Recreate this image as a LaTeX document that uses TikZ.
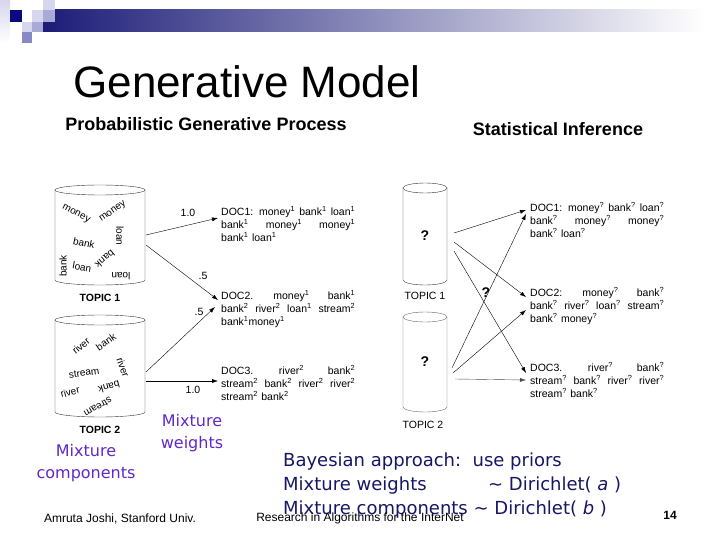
\documentclass[tikz,border=0pt]{standalone}
\usepackage{fontspec}
\setmainfont{Liberation Sans}
\newfontfamily\comicfont{DejaVu Sans}
\usepackage{xcolor}
\usetikzlibrary{arrows.meta, positioning, calc}

\definecolor{barnavy}{RGB}{28,28,120}
\definecolor{sqnavy}{RGB}{10,10,128}
\definecolor{lavlight}{RGB}{214,214,238}
\definecolor{lavmid}{RGB}{170,170,214}
\definecolor{lavdark}{RGB}{136,136,196}
\definecolor{mixpurple}{RGB}{96,40,200}
\definecolor{bayesblue}{RGB}{22,22,102}

\begin{document}
\begin{tikzpicture}[
  x=1pt, y=-1pt,
  word/.style={inner sep=0pt, font=\fontsize{10}{10}\selectfont},
  doc/.style={anchor=north west, text width=134pt, inner sep=0pt, font=\fontsize{10.5}{13}\selectfont},
  topic/.style={inner sep=0pt, font=\bfseries\fontsize{10.5}{12}\selectfont},
  weight/.style={inner sep=0pt, font=\fontsize{10.5}{12}\selectfont},
  query/.style={inner sep=0pt, font=\bfseries\fontsize{14}{14}\selectfont},
  mix/.style={align=center, text=mixpurple, font=\comicfont\fontsize{16}{22}\selectfont},
  cyl/.style={draw=black!80, thin},
  arrow/.style={-{Latex[length=6pt, width=4pt]}, thin},
]
\useasboundingbox (0,0) rectangle (720,540);

% top decoration
\shade[left color=barnavy, right color=white] (43,10) rectangle (705,32);
\shade[top color=lavlight, bottom color=white] (0,0) rectangle (10,43);
\fill[sqnavy] (10,10) rectangle (22,22);
\fill[lavlight] (32,10) rectangle (43,22);
\fill[lavlight] (43,0) rectangle (55,10);
\fill[lavmid] (43,10) rectangle (55,22);
\fill[lavlight] (22,22) rectangle (32,32);
\fill[lavmid] (32,22) rectangle (43,32);
\fill[lavdark] (22,32) rectangle (32,43);

% titles
\node[inner sep=0pt, font=\fontsize{44}{44}\selectfont] (title) at (247,82) {Generative Model};
\node[inner sep=0pt, font=\bfseries\fontsize{18}{18}\selectfont] (gen) at (206,124) {Probabilistic Generative Process};
\node[inner sep=0pt, font=\bfseries\fontsize{18}{18}\selectfont] (inf) at (558,129) {Statistical Inference};

% generative side: topic 1
\draw[cyl] (100,190) ellipse [x radius=45, y radius=5];
\draw[cyl] (55,190) -- (55,280) arc[start angle=180, end angle=0, x radius=45, y radius=5] -- (145,190);
\node[topic] (top1) at (100,298) {TOPIC 1};
\node[word, rotate=-28] (w1) at (76,214) {money};
\node[word, rotate=35] (w2) at (113,212) {money};
\node[word, rotate=-90] (w3) at (120,236) {loan};
\node[word, rotate=-12] (w4) at (84,243) {bank};
\node[word, rotate=90] (w5) at (63,266) {bank};
\node[word, rotate=-10] (w6) at (82,267) {loan};
\node[word, rotate=-140] (w7) at (105,259) {bank};
\node[word, rotate=180] (w8) at (121,276) {loan};

% generative side: topic 2
\draw[cyl] (100,320) ellipse [x radius=45, y radius=5];
\draw[cyl] (55,320) -- (55,412) arc[start angle=180, end angle=0, x radius=45, y radius=5] -- (145,320);
\node[topic] (top2) at (100,430) {TOPIC 2};
\node[word, rotate=40] (v1) at (81,346) {river};
\node[word, rotate=35] (v2) at (106,342) {bank};
\node[word, rotate=-70] (v3) at (123,367) {river};
\node[word, rotate=8] (v4) at (84,373) {stream};
\node[word, rotate=15] (v5) at (70,392) {river};
\node[word, rotate=195] (v6) at (109,387) {bank};
\node[word, rotate=-150] (v7) at (98,407) {stream};

% generated documents
\node[doc] (doc1) at (221,206) {DOC1: \hfill money\textsuperscript{1} \hfill bank\textsuperscript{1} \hfill loan\textsuperscript{1}\\
  bank\textsuperscript{1} \hfill money\textsuperscript{1} \hfill money\textsuperscript{1}\\
  bank\textsuperscript{1} loan\textsuperscript{1}};
\node[doc] (doc2) at (221,290) {DOC2. \hfill money\textsuperscript{1} \hfill bank\textsuperscript{1}\\
  bank\textsuperscript{2} \hfill river\textsuperscript{2} \hfill loan\textsuperscript{1} \hfill stream\textsuperscript{2}\\
  bank\textsuperscript{1}money\textsuperscript{1}};
\node[doc] (doc3) at (221,365) {DOC3. \hfill river\textsuperscript{2} \hfill bank\textsuperscript{2}\\
  stream\textsuperscript{2} \hfill bank\textsuperscript{2} \hfill river\textsuperscript{2} \hfill river\textsuperscript{2}\\
  stream\textsuperscript{2} bank\textsuperscript{2}};

\coordinate (g1a) at (146,235);
\coordinate (g1b) at (146,245);
\coordinate (g2a) at (146,372);
\coordinate (g2b) at (146,381);
\draw[arrow] (g1a) -- ($(doc1.north west)+(-3,12)$);
\draw[arrow] (g1b) -- ($(doc2.north west)+(-3,10)$);
\draw[arrow] (g2a) -- ($(doc2.north west)+(-6,17)$);
\draw[arrow] (g2b) -- ($(doc3.north west)+(-3,16)$);
\node[weight] (p1) at (188,213) {1.0};
\node[weight] (p2) at (203,276) {.5};
\node[weight] (p3) at (199,312) {.5};
\node[weight] (p4) at (193,390) {1.0};

% inference side
\draw[cyl] (425,188) ellipse [x radius=22, y radius=5];
\draw[cyl] (403,188) -- (403,280) arc[start angle=180, end angle=0, x radius=22, y radius=5] -- (447,188);
\node[query] (q1) at (425,236) {?};
\node[weight] (top1r) at (425,296) {TOPIC 1};
\draw[cyl, draw=black!60] (425,317) ellipse [x radius=22, y radius=5];
\draw[cyl, draw=black!60] (403,317) -- (403,407) arc[start angle=180, end angle=0, x radius=22, y radius=5] -- (447,317);
\node[query] (q2) at (425,362) {?};
\node[weight] (top2r) at (423,425) {TOPIC 2};
\node[query] (qm) at (486,293) {?};

\node[doc] (rdoc1) at (530,202) {DOC1: \hfill money\textsuperscript{?} \hfill bank\textsuperscript{?} \hfill loan\textsuperscript{?}\\
  bank\textsuperscript{?} \hfill money\textsuperscript{?} \hfill money\textsuperscript{?}\\
  bank\textsuperscript{?} loan\textsuperscript{?}};
\node[doc] (rdoc2) at (530,287) {DOC2: \hfill money\textsuperscript{?} \hfill bank\textsuperscript{?}\\
  bank\textsuperscript{?} \hfill river\textsuperscript{?} \hfill loan\textsuperscript{?} \hfill stream\textsuperscript{?}\\
  bank\textsuperscript{?} money\textsuperscript{?}};
\node[doc] (rdoc3) at (530,362) {DOC3. \hfill river\textsuperscript{?} \hfill bank\textsuperscript{?}\\
  stream\textsuperscript{?} \hfill bank\textsuperscript{?} \hfill river\textsuperscript{?} \hfill river\textsuperscript{?}\\
  stream\textsuperscript{?} bank\textsuperscript{?}};

\coordinate (s1a) at (454,233);
\coordinate (s1b) at (454,242);
\coordinate (s1c) at (454,251);
\coordinate (s2a) at (452,368);
\coordinate (s2b) at (453,373);
\coordinate (s2c) at (455,379);
\draw[arrow] (s1a) -- ($(rdoc1.north west)+(-4,8)$);
\draw[arrow] (s1b) -- ($(rdoc2.north west)+(-4,10)$);
\draw[arrow] (s1c) -- ($(rdoc3.north west)+(-4,11)$);
\draw[arrow] (s2a) -- ($(rdoc1.north west)+(-4,12)$);
\draw[arrow] (s2b) -- ($(rdoc2.north west)+(-4,23)$);
\draw[arrow, black!70] (s2c) -- ($(rdoc3.north west)+(-4,18)$);

% captions
\node[mix] (mixc) at (86,463) {Mixture\\components};
\node[mix] (mixw) at (192,433) {Mixture\\weights};
\node[anchor=north west, inner sep=0pt, align=left, text=bayesblue, font=\comicfont\fontsize{18}{24}\selectfont] (bayes) at (283,453)
  {Bayesian approach:\ \ use priors\\
   \makebox[205pt][l]{Mixture weights}\textasciitilde\ Dirichlet( \textit{a} )\\
   Mixture components \textasciitilde\ Dirichlet( \textit{b} )};

% footer
\node[inner sep=0pt, font=\fontsize{12}{12}\selectfont] (author) at (120,519) {Amruta Joshi, Stanford Univ.};
\node[inner sep=0pt, font=\fontsize{12}{12}\selectfont] (course) at (360,518) {Research in Algorithms for the InterNet};
\node[inner sep=0pt, font=\bfseries\fontsize{12}{12}\selectfont] (page) at (670,515) {14};
\end{tikzpicture}
\end{document}
